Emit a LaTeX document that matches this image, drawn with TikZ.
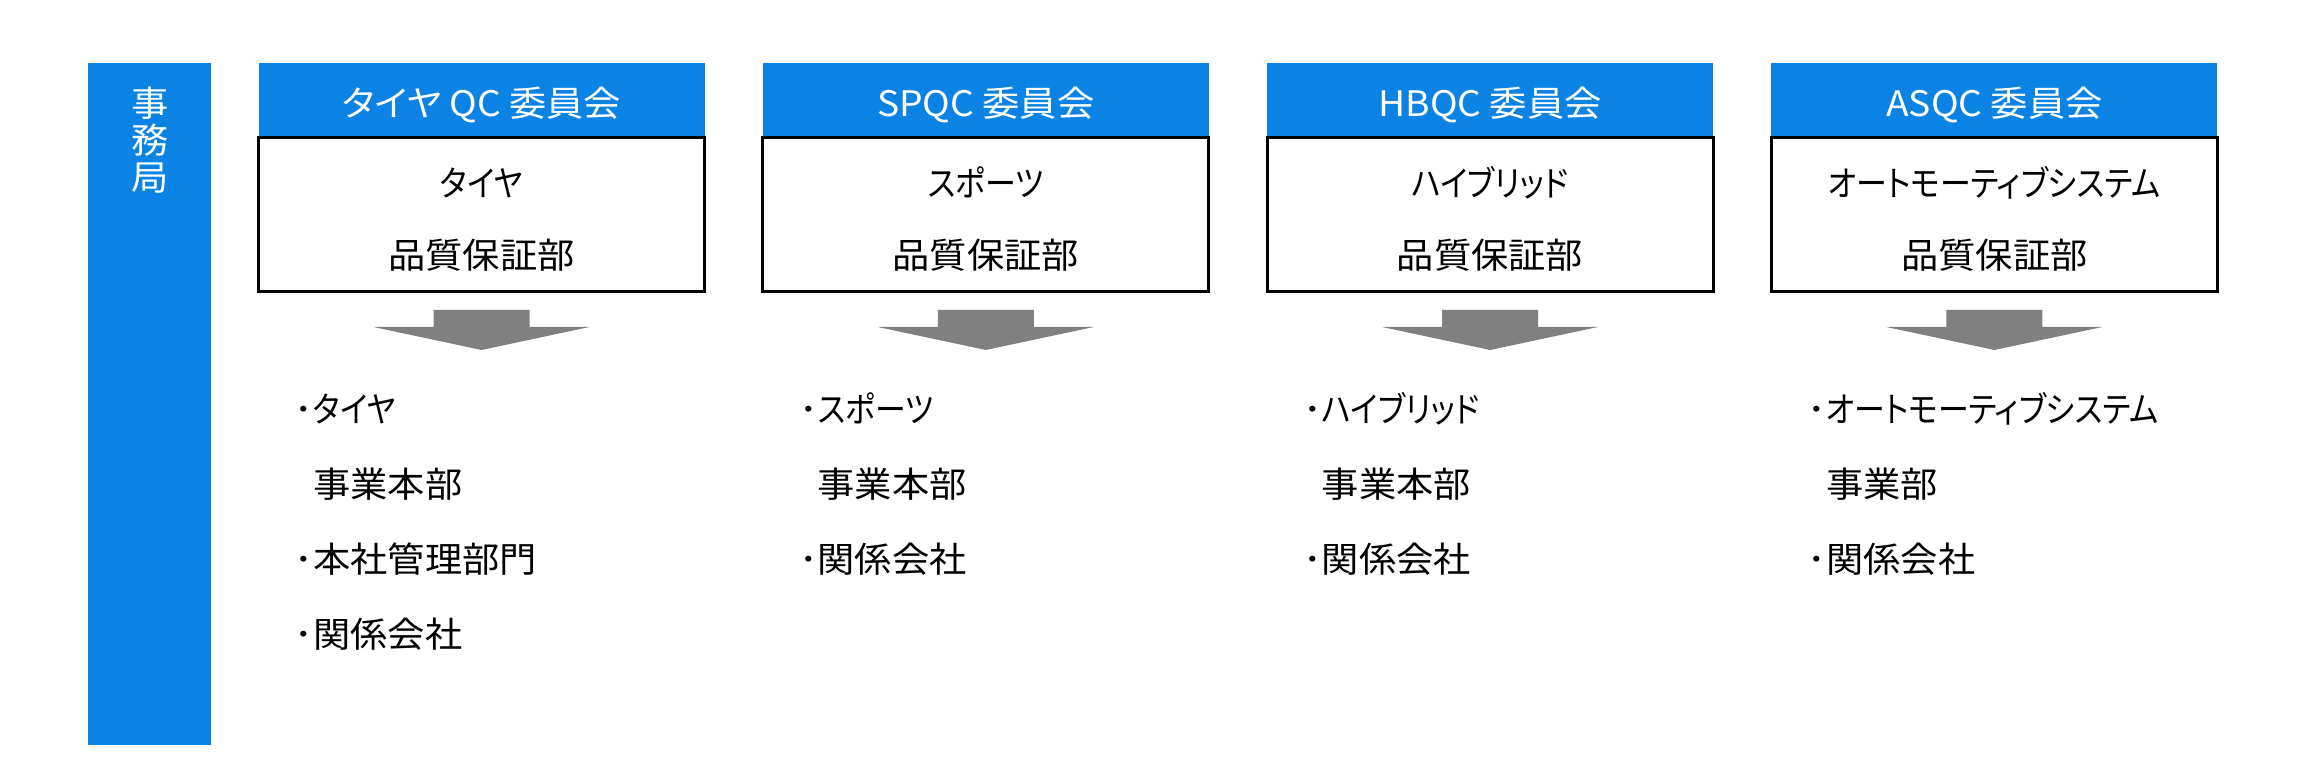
\documentclass[tikz,border=0pt]{standalone}
\usepackage{
	fontspec,			% System Fonts
	tikz,
	xcolor
}
\setmainfont{Noto Sans CJK JP}[RawFeature=+palt, FakeStretch=1.06]
\newfontfamily\kana{Noto Sans CJK JP}[RawFeature=+palt, FakeStretch=0.88]
\definecolor{qcblue}{RGB}{11,131,228}
\definecolor{arrowgray}{RGB}{128,128,128}
\tikzset{
	txt/.style={inner sep=0pt, text height=0.88em, text depth=0.12em},
	headbox/.style={fill=qcblue, minimum width=44.6mm, minimum height=7.5mm, inner sep=0pt},
	deptbox/.style={draw, line width=0.3mm, minimum width=44.6mm, minimum height=15.4mm, inner sep=0pt}
}

\begin{document}
\begin{tikzpicture}[x=0.1mm, y=-0.1mm, font=\fontsize{10}{12}\selectfont]
		\useasboundingbox (0,0) rectangle (2300,768);
		\fill[qcblue] (88,63) rectangle (211,745);
		\foreach \c [count=\k] in {事,務,局}
			\node[txt, white] (office\k) at (150,66+37*\k) {\c};
		\foreach \i/\head/\dept in {0/タイヤ QC 委員会/タイヤ, 1/SPQC 委員会/スポーツ, 2/HBQC 委員会/ハイブリッド, 3/ASQC 委員会/オートモーティブシステム}{
			\pgfmathsetmacro{\xc}{481.5+504.3*\i}
			\node[headbox] (head\i) at (\xc,100.5) {};
			\node[txt, white] (title\i) at (\xc,103) {\head};
			\node[deptbox] (box\i) at (\xc,215) {};
			\node[txt] (dept\i) at (\xc,183) {\kana\dept};
			\node[txt] (qa\i) at (\xc,255) {品質保証部};
			\fill[arrowgray] (\xc-48,310) -- (\xc+48,310) -- (\xc+48,327) -- (\xc+108,327)
				-- (\xc,350) -- (\xc-108,327) -- (\xc-48,327) -- cycle;
		}
		% lists under the arrows
		\foreach \i/\a/\b/\c in {0/タイヤ/事業本部/本社管理部門, 1/スポーツ/事業本部/関係会社, 2/ハイブリッド/事業本部/関係会社, 3/オートモーティブシステム/事業部/関係会社}{
			\pgfmathsetmacro{\xl}{294+504.3*\i}
			\node[txt, anchor=west] (item\i a) at (\xl,409) {･{\kana\a}};
			\node[txt, anchor=west] (item\i b) at (\xl,484) {\hphantom{･}\b};
			\node[txt, anchor=west] (item\i c) at (\xl,559) {･\c};
		}
		\node[txt, anchor=west] (item0d) at (294,634) {･関係会社};
	\end{tikzpicture}
\end{document}
